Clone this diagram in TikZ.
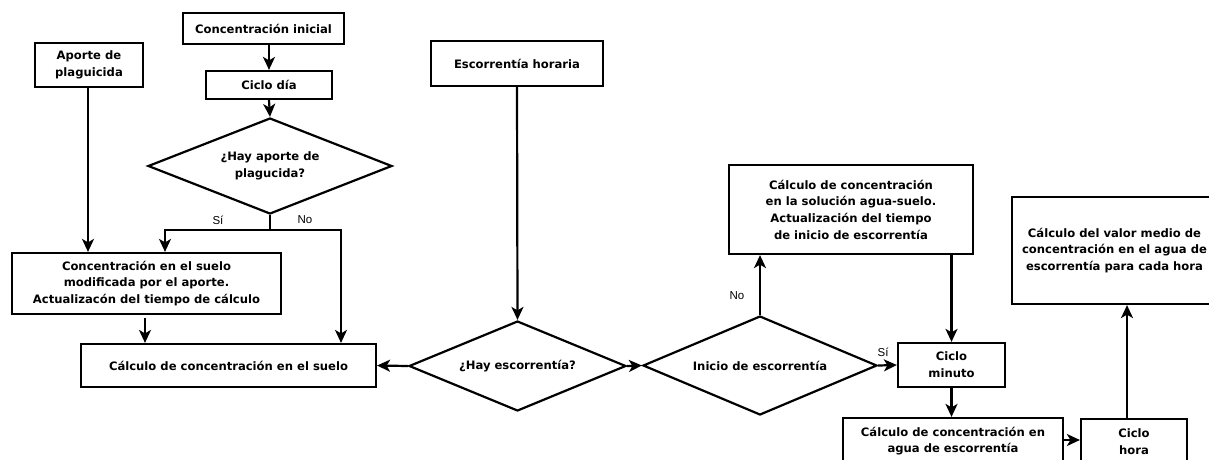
\documentclass[tikz,border=0pt]{standalone}
\usepackage{fontspec}
\setmainfont{DejaVu Sans}
\newfontfamily\lblfont{Liberation Sans}
\usetikzlibrary{shapes.geometric,arrows.meta}
\begin{document}
\begin{tikzpicture}[x=1pt,y=-1pt,
  every node/.style={font=\bfseries\fontsize{11.6}{16.7}\selectfont},
  box/.style={draw,line width=2.2pt,rectangle,inner sep=0pt,align=center},
  dia/.style={draw,line width=2.2pt,diamond,inner sep=0pt,align=center,shape aspect=2.4},
  arr/.style={line width=2.2pt,-{Stealth[length=13pt,width=12pt,inset=3.5pt]}},
  ln/.style={line width=2.2pt},
  lbl/.style={font=\lblfont\fontsize{11.5}{13}\selectfont,inner sep=0pt}]
\useasboundingbox (0,0) rectangle (1209,459);
\clip (0,0) rectangle (1209,459);
\fill[white] (0,0) rectangle (1209,459);
% nodes
\node[box,minimum width=161pt,minimum height=31pt] (ci) at (263.5,28.5) {Concentración inicial};
\node[box,minimum width=126pt,minimum height=28pt] (cd) at (269,85) {Ciclo día};
\node[dia,minimum width=244pt,minimum height=96pt] (d1) at (270,166) {¿Hay aporte de\\plagucida?};
\node[box,minimum width=108pt,minimum height=44pt] (ap) at (89,65) {Aporte de\\plaguicida};
\node[box,minimum width=269pt,minimum height=61pt] (cm) at (146.5,283.5) {Concentración en el suelo\\modificada por el aporte.\\Actualizacón del tiempo de cálculo};
\node[box,minimum width=295pt,minimum height=43pt] (cs) at (228.5,365.5) {Cálculo de concentración en el suelo};
\node[box,minimum width=172pt,minimum height=45pt] (eh) at (517,63.5) {Escorrentía horaria};
\node[dia,minimum width=217pt,minimum height=90pt] (d2) at (517.5,366) {¿Hay escorrentía?};
\node[dia,minimum width=234pt,minimum height=99pt] (d3) at (760,365.5) {Inicio de escorrentía};
\node[box,minimum width=244pt,minimum height=89pt] (sol) at (851,209.5) {Cálculo de concentración\\en la solución agua-suelo.\\Actualización del tiempo\\de inicio de escorrentía};
\node[box,minimum width=107pt,minimum height=44pt] (min) at (951.5,365) {Ciclo\\minuto};
\node[box,minimum width=220pt,minimum height=46pt] (agua) at (953,441) {Cálculo de concentración en\\agua de escorrentía};
\node[box,minimum width=106pt,minimum height=46pt] (hora) at (1134,442) {Ciclo\\hora};
\node[box,minimum width=205pt,minimum height=107pt] (med) at (1114.5,250.5) {Cálculo del valor medio de\\concentración en el agua de\\escorrentía para cada hora};
% connectors
\draw[arr] (ci.south -| cd.north) -- (cd.north);
\draw[arr] (cd.south) -- (d1.north);
\draw[arr] (ap.south -| 88,0) -- (cm.north -| 88,0);
\coordinate (j1) at ([yshift=-15pt]d1.south);
\draw[ln] (d1.south) -- (j1);
\draw[arr] (j1) -| ([xshift=18.5pt]cm.north);
\draw[arr] (j1) -| ([xshift=112.5pt]cs.north);
\draw[arr] ([yshift=-3pt]cm.south -| 145,0) -- (cs.north -| 145,0);
\draw[arr] (d2.west) -- (cs.east);
\draw[arr] (eh.south) -- (d2.north);
\draw[arr] (d2.east) -- (d3.west);
\draw[arr] (d3.north) -- (d3.north |- sol.south);
\draw[arr] (sol.south -| min.north) -- (min.north);
\draw[arr] (d3.east) -- (min.west);
\draw[arr] (min.south) -- (min.south |- agua.north);
\draw[arr] (agua.east |- 0,440) -- (hora.west |- 0,440);
\draw[arr] ([xshift=-7pt]hora.north) -- ([xshift=-7pt]hora.north |- med.south);
% labels
\node[lbl] (si1) at (218,220) {Sí};
\node[lbl] (no1) at (305,220) {No};
\node[lbl] (no2) at (737,296) {No};
\node[lbl] (si2) at (883,352) {Sí};
\end{tikzpicture}
\end{document}
